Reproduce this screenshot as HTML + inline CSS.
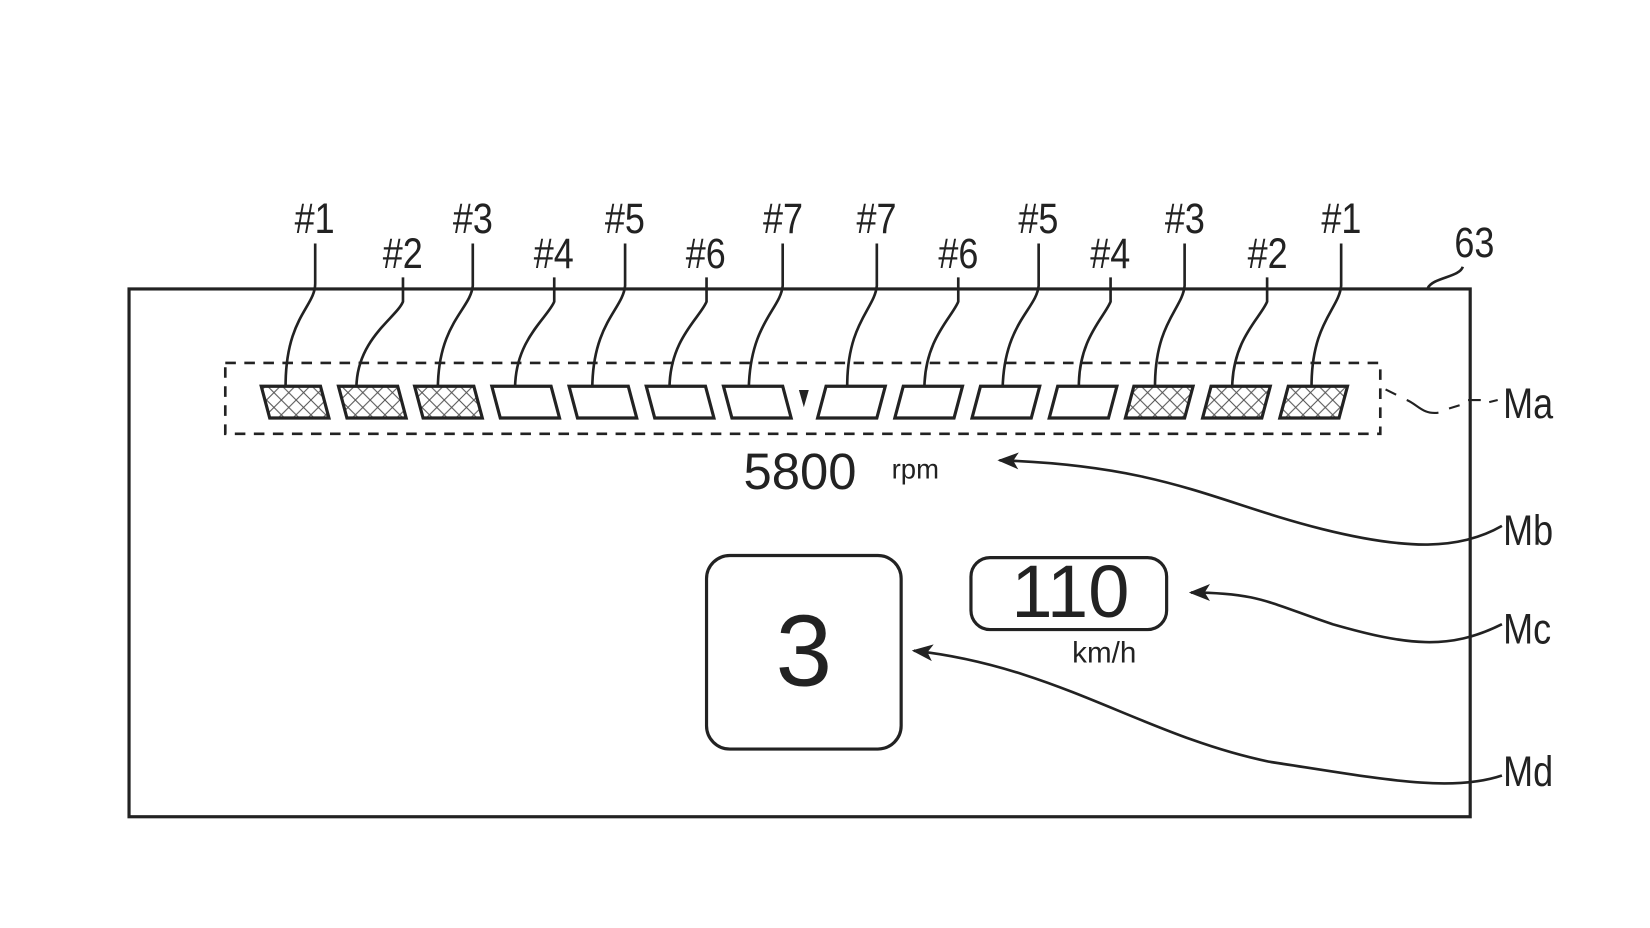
<!DOCTYPE html>
<html><head><meta charset="utf-8"><style>
html,body{margin:0;padding:0;background:#fff;}
svg{display:block;}
text{font-family:"Liberation Sans",sans-serif;fill:#222;}
</style></head><body>
<svg width="1650" height="928" viewBox="0 0 1560 877" xmlns="http://www.w3.org/2000/svg">
<defs>
<pattern id="h" width="14" height="14" patternUnits="userSpaceOnUse">
<path d="M0 0L14 14M14 0L0 14" stroke="#555" stroke-width="1"/>
</pattern>
<marker id="a" markerWidth="22" markerHeight="16" refX="20" refY="8" orient="auto" markerUnits="userSpaceOnUse">
<path d="M22 8L2 0L7 8L2 16Z" fill="#222"/>
</marker>
</defs>
<g fill="none" stroke="#222" stroke-width="3">
<rect x="122" y="273" width="1268" height="499"/>
<rect x="213" y="343" width="1092" height="67" stroke-dasharray="10 8" stroke-width="2.5"/>
<g stroke-width="3">
<path d="M247 365h56l8 30h-56z" fill="url(#h)"/>
<path d="M320 365h56l8 30h-56z" fill="url(#h)"/>
<path d="M392 365h56l8 30h-56z" fill="url(#h)"/>
<path d="M465 365h56l8 30h-56z"/>
<path d="M538 365h56l8 30h-56z"/>
<path d="M611 365h56l8 30h-56z"/>
<path d="M684 365h56l8 30h-56z"/>
<path d="M781 365h56l-8 30h-56z"/>
<path d="M854 365h56l-8 30h-56z"/>
<path d="M927 365h56l-8 30h-56z"/>
<path d="M1000 365h56l-8 30h-56z"/>
<path d="M1072 365h56l-8 30h-56z" fill="url(#h)"/>
<path d="M1145 365h56l-8 30h-56z" fill="url(#h)"/>
<path d="M1218 365h56l-8 30h-56z" fill="url(#h)"/>
</g>
<path d="M756 369l8 0l-4 14z" fill="#222" stroke-width="1"/>
<g stroke-width="2.5">
<path d="M298 230V268C298 290 270 300 270 365"/>
<path d="M381 262V285C375 300 338 320 337 365"/>
<path d="M447 230V270C445 292 415 305 414 365"/>
<path d="M524 262V285C518 300 488 320 487 365"/>
<path d="M591 230V270C589 292 561 305 560 365"/>
<path d="M668 262V285C662 300 634 320 633 365"/>
<path d="M740 230V270C738 292 710 305 708 365"/>
<path d="M829 230V270C827 292 801 305 801 365"/>
<path d="M906 262V285C900 300 875 320 874 365"/>
<path d="M982 230V270C980 292 950 305 948 365"/>
<path d="M1050 262V285C1044 300 1020 320 1020 365"/>
<path d="M1120 230V270C1118 292 1092 305 1092 365"/>
<path d="M1198 262V285C1192 300 1166 320 1165 365"/>
<path d="M1268 230V270C1266 292 1240 305 1240 365"/>
<path d="M1350 272C1355 262 1380 262 1383 252"/>
<path d="M1310 368L1320 373M1330 378C1340 382 1345 392 1360 390M1370 386L1380 383M1388 378L1400 378M1408 380L1416 378" stroke-width="2"/>
</g>
<g stroke-width="2.5">
<path d="M1420 497C1380 520 1330 520 1250 500C1150 475 1100 440 945 435" marker-end="url(#a)"/>
<path d="M1420 590C1370 615 1330 610 1260 590C1200 570 1190 560 1126 560" marker-end="url(#a)"/>
<path d="M1420 733C1370 750 1300 735 1200 720C1080 695 1000 630 864 615" marker-end="url(#a)"/>
</g>
<rect x="668" y="525" width="184" height="183" rx="22"/>
<rect x="918" y="527" width="185" height="68" rx="18"/>
</g>
<g font-size="40">
<g transform="scale(0.85 1)">
<text x="350" y="220" text-anchor="middle">#1</text>
<text x="448" y="253" text-anchor="middle">#2</text>
<text x="526" y="220" text-anchor="middle">#3</text>
<text x="616" y="253" text-anchor="middle">#4</text>
<text x="695" y="220" text-anchor="middle">#5</text>
<text x="785" y="253" text-anchor="middle">#6</text>
<text x="871" y="220" text-anchor="middle">#7</text>
<text x="975" y="220" text-anchor="middle">#7</text>
<text x="1066" y="253" text-anchor="middle">#6</text>
<text x="1155" y="220" text-anchor="middle">#5</text>
<text x="1235" y="253" text-anchor="middle">#4</text>
<text x="1318" y="220" text-anchor="middle">#3</text>
<text x="1410" y="253" text-anchor="middle">#2</text>
<text x="1492" y="220" text-anchor="middle">#1</text>
<text x="1640" y="243" text-anchor="middle">63</text>
<text x="1672" y="395">Ma</text>
<text x="1672" y="515">Mb</text>
<text x="1672" y="608">Mc</text>
<text x="1672" y="743">Md</text>
</g>
</g>
<text x="703" y="462" font-size="48">5800</text>
<text x="843" y="452" font-size="26">rpm</text>
<text x="760" y="648" font-size="96" text-anchor="middle">3</text>
<text x="1012" y="583" font-size="70" text-anchor="middle">110</text>
<text x="1044" y="626" font-size="28" text-anchor="middle">km/h</text>
</svg>
</body></html>
